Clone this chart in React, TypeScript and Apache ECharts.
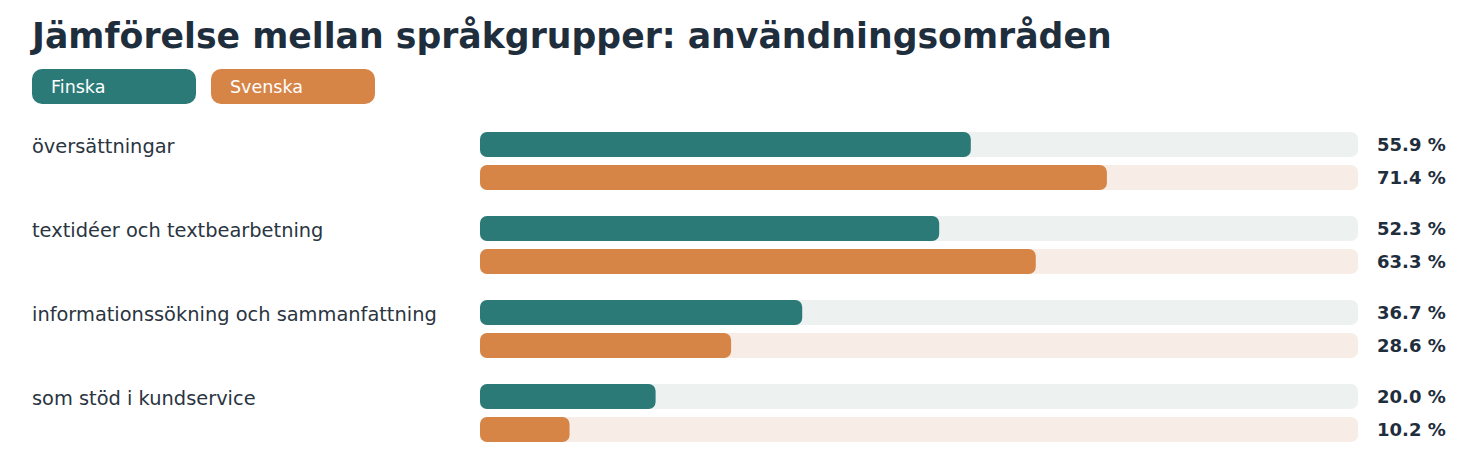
import { useEffect, useRef } from 'react'
import * as echarts from 'echarts'

// ── Data ──────────────────────────────────────────────────────────────────────
const CATEGORIES = [
  'översättningar',
  'textidéer och textbearbetning',
  'informationssökning och sammanfattning',
  'som stöd i kundservice',
]
const FINSKA = [55.9, 52.3, 36.7, 20.0]
const SVENSKA = [71.4, 63.3, 28.6, 10.2]
const GROUPS = ['Finska', 'Svenska']

const TEAL = '#2b7a78'
const ORANGE = '#d78547'
const TEXT = '#1f2e3d'
const LABEL = '#2a3541'
const FONT = '"DejaVu Sans", Verdana, sans-serif'

export default function App() {
  const chartRef = useRef<HTMLDivElement>(null)

  useEffect(() => {
    if (!chartRef.current) return
    const chart = echarts.init(chartRef.current, undefined, { renderer: 'svg' })

    // transparent remainder bars carry the value labels at the track's end
    const labelSeries = (name: string, stack: string, vals: number[]) => ({
      type: 'bar' as const,
      name,
      stack,
      data: vals.map(v => 100 - v),
      itemStyle: { color: 'transparent' },
      silent: true,
      label: {
        show: true,
        position: 'right' as const,
        distance: 19,
        formatter: (p: any) => `${vals[p.dataIndex].toFixed(1)} %`,
        fontFamily: FONT,
        fontSize: 18,
        fontWeight: 'bold' as const,
        color: TEXT,
      },
    })

    const option: echarts.EChartsOption = {
      animation: false,
      backgroundColor: '#fff',
      textStyle: { fontFamily: FONT },
      title: {
        text: 'Jämförelse mellan språkgrupper: användningsområden',
        left: 27,
        top: 13,
        textStyle: { fontFamily: FONT, fontSize: 34.7, fontWeight: 'bold', color: TEXT },
      },
      legend: {
        left: 22,
        top: 64,
        icon: 'none',
        itemWidth: 0,
        itemGap: 10,
        selectedMode: false,
        data: GROUPS.map((g, i) => ({
          name: g,
          textStyle: {
            color: '#fff',
            fontFamily: FONT,
            fontSize: 17.5,
            backgroundColor: i === 0 ? TEAL : ORANGE,
            borderRadius: 10,
            width: 145,
            height: 35,
            lineHeight: 35,
            padding: [0, 0, 0, 19],
          },
        })),
      },
      grid: { left: 480, right: 120, top: 119, height: 336 },
      xAxis: { type: 'value', min: 0, max: 100, show: false },
      yAxis: {
        type: 'category',
        data: CATEGORIES,
        inverse: true,
        axisLine: { show: false },
        axisTick: { show: false },
        axisLabel: {
          align: 'left',
          verticalAlign: 'bottom',
          lineHeight: 30,
          margin: 448,
          fontFamily: FONT,
          fontSize: 19.4,
          color: LABEL,
        },
      },
      series: [
        {
          type: 'bar',
          name: 'Finska',
          stack: 'fi',
          data: FINSKA,
          barWidth: 25,
          barGap: '32%',
          itemStyle: { color: TEAL, borderRadius: 7 },
          showBackground: true,
          backgroundStyle: { color: '#edf1f0', borderRadius: 7 },
        },
        labelSeries('Finska-etikett', 'fi', FINSKA),
        {
          type: 'bar',
          name: 'Svenska',
          stack: 'sv',
          data: SVENSKA,
          barWidth: 25,
          barGap: '32%',
          itemStyle: { color: ORANGE, borderRadius: 7 },
          showBackground: true,
          backgroundStyle: { color: '#f7ede6', borderRadius: 7 },
        },
        { ...labelSeries('Svenska-etikett', 'sv', SVENSKA), barGap: '32%' },
      ],
    }

    chart.setOption(option)
    return () => chart.dispose()
  }, [])

  return (
    <div
      ref={chartRef}
      style={{ position: 'fixed', left: 0, top: 0, width: 1478, height: 471 }}
    />
  )
}
